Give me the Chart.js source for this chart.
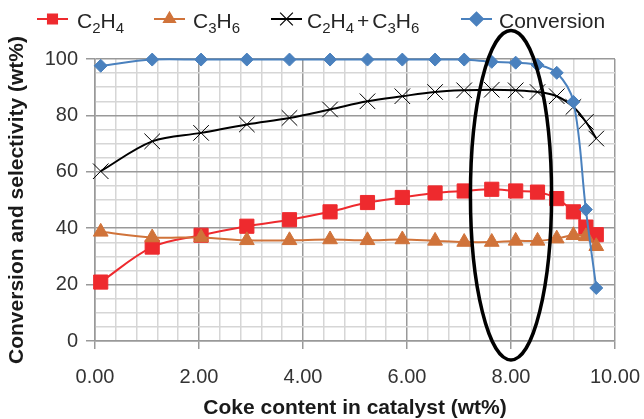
<!DOCTYPE html>
<html>
<head>
<meta charset="utf-8">
<script src="https://cdn.jsdelivr.net/npm/chart.js@4.4.0/dist/chart.umd.min.js"></script>
<style>
  html, body { margin: 0; padding: 0; background: #fff; }
  #wrap { width: 644px; height: 419px; }
</style>
</head>
<body>
<div id="wrap"><canvas id="chart" width="644" height="419"></canvas></div>
<script>
const FONT = '"Liberation Sans", Arial, Helvetica, sans-serif';

// coke content (wt%) of each sample
const coke = [0.11, 1.10, 2.04, 2.92, 3.74, 4.52, 5.24, 5.91, 6.54, 7.10, 7.63, 8.09, 8.51, 8.88, 9.20, 9.44, 9.64];
const ethylene = [20.9, 33.3, 37.5, 40.7, 43.0, 45.8, 49.1, 50.9, 52.5, 53.2, 53.8, 53.2, 52.8, 50.5, 45.8, 40.4, 37.7];
const propylene = [38.7, 36.7, 36.7, 35.7, 35.7, 36.0, 35.7, 36.0, 35.5, 35.1, 35.1, 35.5, 35.5, 36.3, 37.5, 37.1, 33.6];
const lightOlefins = [60.2, 70.8, 73.8, 76.8, 79.1, 82.1, 85.0, 86.8, 88.3, 88.9, 89.1, 88.9, 88.3, 86.8, 83.0, 77.7, 71.8];
const conversion = [97.6, 99.8, 99.8, 99.8, 99.8, 99.8, 99.8, 99.8, 99.8, 99.8, 99.0, 98.7, 97.9, 95.1, 84.8, 46.6, 18.8];

const seriesNames = ['C2H4', 'C3H6', 'C2H4+C3H6', 'Conversion'];
const xTickLabels = ['0.00', '2.00', '4.00', '6.00', '8.00', '10.00'];
const yTickLabels = ['0', '20', '40', '60', '80', '100'];

const MAJOR = '#999999';
const MINOR = '#d6d6d6';

function isMajor(v, step) {
    return Math.abs(v / step - Math.round(v / step)) < 1e-6;
}

function pts(ys) {
    return coke.map((x, i) => ({ x: x, y: ys[i] }));
}

function series(label, data, color, style, radius, order) {
    return {
        label: label,
        data: pts(data),
        borderColor: color,
        backgroundColor: color,
        borderWidth: 2,
        pointStyle: style,
        pointRadius: radius,
        pointBorderWidth: 1,
        pointBorderColor: color,
        pointBackgroundColor: color,
        tension: 0.35,
        clip: false,
        order: order
    };
}

// formula text: digits are drawn as subscripts
function drawFormula(ctx, text, x, y) {
    ctx.textBaseline = 'alphabetic';
    ctx.textAlign = 'left';
    for (const ch of text) {
        if (/\d/.test(ch)) {
            ctx.font = '15px ' + FONT;
            ctx.fillText(ch, x, y + 5);
            x += ctx.measureText(ch).width;
        } else if (ch === '+') {
            ctx.font = '21px ' + FONT;
            x += 3;
            ctx.fillText(ch, x, y);
            x += ctx.measureText(ch).width + 3;
        } else {
            ctx.font = '21px ' + FONT;
            ctx.fillText(ch, x, y);
            x += ctx.measureText(ch).width;
        }
    }
}

const legendSlots = [
    { lineX: 37, textX: 77, r: 7 },
    { lineX: 154, textX: 193, r: 7 },
    { lineX: 271, textX: 307, r: 9 },
    { lineX: 461, textX: 499, r: 7 }
];

const legendPlugin = {
    id: 'formulaLegend',
    afterDraw(chart) {
        const ctx = chart.ctx;
        const ly = 19;
        chart.data.datasets.forEach((ds, i) => {
            const slot = legendSlots[i];
            ctx.save();
            ctx.strokeStyle = ds.borderColor;
            ctx.fillStyle = ds.backgroundColor;
            ctx.lineWidth = 2;
            ctx.beginPath();
            ctx.moveTo(slot.lineX, ly);
            ctx.lineTo(slot.lineX + 31, ly);
            ctx.stroke();
            ctx.lineWidth = 1.2;
            Chart.helpers.drawPoint(ctx, {
                pointStyle: ds.pointStyle, radius: slot.r, rotation: 0, borderWidth: 1.2
            }, slot.lineX + 15.5, ly);
            ctx.fillStyle = '#262626';
            drawFormula(ctx, ds.label, slot.textX, 27.5);
            ctx.restore();
        });
    }
};

// outline around the 8 wt% region
const ellipsePlugin = {
    id: 'ellipse',
    afterDatasetsDraw(chart) {
        const { ctx, scales: { x, y } } = chart;
        const cx = x.getPixelForValue(8.0);
        const cy = y.getPixelForValue(51.7);
        const rx = x.getPixelForValue(8.78) - cx;
        const ry = cy - y.getPixelForValue(110.1);
        ctx.save();
        ctx.strokeStyle = '#000';
        ctx.lineWidth = 3.5;
        ctx.beginPath();
        ctx.ellipse(cx, cy, rx, ry, 0, 0, Math.PI * 2);
        ctx.stroke();
        ctx.restore();
    }
};

new Chart(document.getElementById('chart').getContext('2d'), {
    type: 'line',
    data: {
        datasets: [
            series(seriesNames[0], ethylene, '#ee2a2e', 'rect', 10, 3),
            series(seriesNames[1], propylene, '#d0733a', 'triangle', 8.5, 2),
            series(seriesNames[2], lightOlefins, '#000000', 'crossRot', 11, 1),
            series(seriesNames[3], conversion, '#4a81be', 'rectRot', 6.5, 0)
        ]
    },
    options: {
        responsive: false,
        animation: false,
        layout: { padding: { top: 59, right: 29, left: 0, bottom: 0 } },
        plugins: { legend: { display: false }, tooltip: { enabled: false } },
        scales: {
            x: {
                type: 'linear',
                min: 0,
                max: 10,
                afterFit: s => {
                    s.height = 78;
                    s.paddingLeft = 0;
                    s.paddingRight = 0;
                },
                ticks: {
                    stepSize: 0.4,
                    autoSkip: false,
                    maxRotation: 0,
                    padding: 16,
                    color: '#333',
                    font: { family: FONT, size: 20 },
                    callback: v => isMajor(v, 2) ? xTickLabels[Math.round(v / 2)] : ''
                },
                grid: {
                    color: c => isMajor(c.tick.value, 2) ? MAJOR : MINOR,
                    lineWidth: 1.5,
                    tickLength: 8,
                    tickColor: c => isMajor(c.tick.value, 2) ? MAJOR : 'rgba(0,0,0,0)'
                },
                border: { color: MAJOR, width: 1.5 },
                title: {
                    display: true,
                    text: 'Coke content in catalyst (wt%)',
                    color: '#1a1a1a',
                    font: { family: FONT, size: 21, weight: 'bold' },
                    padding: { top: 0, bottom: -2 }
                }
            },
            y: {
                min: 0,
                max: 100,
                afterFit: s => {
                    s.width = 95;
                    s.paddingTop = 0;
                    s.paddingBottom = 0;
                },
                ticks: {
                    stepSize: 5,
                    autoSkip: false,
                    padding: 8,
                    color: '#333',
                    font: { family: FONT, size: 20 },
                    callback: v => isMajor(v, 20) ? yTickLabels[Math.round(v / 20)] : ''
                },
                grid: {
                    color: c => isMajor(c.tick.value, 20) ? MAJOR : MINOR,
                    lineWidth: 1.5,
                    tickLength: 9,
                    tickColor: c => isMajor(c.tick.value, 20) ? MAJOR : 'rgba(0,0,0,0)'
                },
                border: { color: MAJOR, width: 1.5 },
                title: {
                    display: true,
                    text: 'Conversion and selectivity (wt%)',
                    color: '#1a1a1a',
                    font: { family: FONT, size: 21, weight: 'bold' },
                    padding: { top: 5, bottom: 0 }
                }
            }
        }
    },
    plugins: [legendPlugin, ellipsePlugin]
});
</script>
</body>
</html>
